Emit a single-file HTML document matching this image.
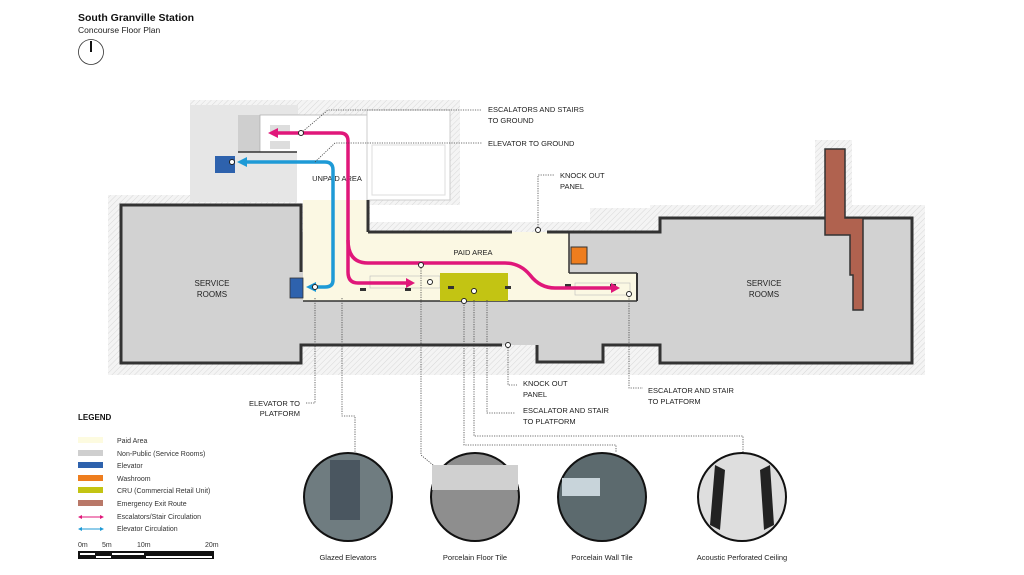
<!DOCTYPE html>
<html><head><meta charset="utf-8"><style>
body{margin:0;background:#fff;}
svg{display:block;font-family:"Liberation Sans",Arial,sans-serif;}
</style></head><body>
<svg width="1024" height="575" viewBox="0 0 1024 575" xmlns="http://www.w3.org/2000/svg">
<defs>
<pattern id="h" width="4" height="4" patternUnits="userSpaceOnUse" patternTransform="rotate(45)">
<rect width="4" height="4" fill="#f4f4f4"/><line x1="0" y1="0" x2="0" y2="4" stroke="#d8d8d8" stroke-width="1"/></pattern>
</defs>
<text x="78" y="21" font-size="10.5" font-weight="bold" fill="#111">South Granville Station</text>
<text x="78" y="33" font-size="8.5" fill="#222">Concourse Floor Plan</text>
<circle cx="91" cy="52" r="12.5" fill="none" stroke="#333" stroke-width="0.8"/>
<line x1="91" y1="41" x2="91" y2="52" stroke="#111" stroke-width="2"/>

<path d="M108 195 H300 V200 H370 V222 H590 V208 H650 V205 H815 V140 H852 V205 H925 V375 H108 Z" fill="url(#h)"/>
<rect x="190" y="100" width="270" height="105" fill="url(#h)"/>
<rect x="190" y="105" width="108" height="97" fill="#e6e6e6"/>
<rect x="238" y="115" width="22" height="37" fill="#cfcfcf"/>
<rect x="260" y="115" width="107" height="37" fill="#fff" stroke="#aaa" stroke-width="0.7"/>
<line x1="238" y1="152" x2="300" y2="152" stroke="#333" stroke-width="1.5"/>
<rect x="297" y="123" width="70" height="80" fill="#fff"/>
<rect x="367" y="110" width="83" height="90" fill="#fff" stroke="#ccc" stroke-width="1"/>
<rect x="372" y="145" width="73" height="50" fill="#fff" stroke="#ddd" stroke-width="1"/>
<rect x="270" y="125" width="20" height="8" fill="#ddd"/><rect x="270" y="141" width="20" height="8" fill="#ddd"/>
<rect x="215" y="156" width="20" height="17" fill="#2e62ad"/>

<path d="M121 205 H301 V232 H660 V218 H912 V363 H660 V345 H603 V362 H537 V345 H301 V363 H121 Z" fill="#d2d2d2"/>
<path d="M569 232 H660 V218 H912 V363 H660 V345 H603 V362 H537 V345" fill="none" stroke="#333" stroke-width="3"/>
<path d="M502 345 H301 V363 H121 V205 H301 V272" fill="none" stroke="#333" stroke-width="3"/>

<path d="M303 200 H368 V232 H569 V273 H637 V301 H303 Z" fill="#fbf8e3"/>
<line x1="368" y1="200" x2="368" y2="232" stroke="#333" stroke-width="3"/>
<line x1="368" y1="232" x2="512" y2="232" stroke="#333" stroke-width="3"/>
<line x1="547" y1="232" x2="569" y2="232" stroke="#333" stroke-width="3"/>
<line x1="569" y1="232" x2="569" y2="273" stroke="#333" stroke-width="1.5"/>
<line x1="569" y1="273" x2="637" y2="273" stroke="#333" stroke-width="1.5"/>
<line x1="637" y1="273" x2="637" y2="301" stroke="#333" stroke-width="2"/>
<line x1="303" y1="301" x2="637" y2="301" stroke="#333" stroke-width="1.5"/>
<rect x="370" y="276" width="70" height="12" fill="none" stroke="#bbb" stroke-width="0.6"/>
<rect x="575" y="283" width="55" height="12" fill="none" stroke="#bbb" stroke-width="0.6"/>
<rect x="440" y="273" width="68" height="28" fill="#c3c413"/>
<rect x="571" y="247" width="16" height="17" fill="#ee7d1e" stroke="#333" stroke-width="1"/>
<rect x="290" y="278" width="13" height="20" fill="#2e62ad" stroke="#333" stroke-width="0.8"/>
<path d="M825 149 H845 V218 H863 V310 H853 V275 H850 V235 H825 Z" fill="#b0624f" stroke="#333" stroke-width="1.5"/>
<g fill="#333"><rect x="360" y="288" width="6" height="3"/><rect x="405" y="288" width="6" height="3"/><rect x="448" y="286" width="6" height="3"/><rect x="505" y="286" width="6" height="3"/><rect x="565" y="284" width="6" height="3"/><rect x="610" y="284" width="6" height="3"/></g>
<text x="212" y="286" font-size="8" text-anchor="middle" fill="#222">SERVICE</text>
<text x="212" y="297" font-size="8" text-anchor="middle" fill="#222">ROOMS</text>
<text x="764" y="286" font-size="8" text-anchor="middle" fill="#222">SERVICE</text>
<text x="764" y="297" font-size="8" text-anchor="middle" fill="#222">ROOMS</text>
<text x="337" y="181" font-size="7.5" text-anchor="middle" fill="#222">UNPAID AREA</text>
<text x="473" y="255" font-size="7.5" text-anchor="middle" fill="#222">PAID AREA</text>
<g fill="none" stroke-width="3.5">
<path d="M276 133 H340 Q348 133 348 141 V272 Q348 283 358 283 H408" stroke="#e0177a"/>
<path d="M348 240 Q348 263 368 263 H505 Q520 263 530 275 Q540 288 555 288 H612" stroke="#e0177a"/>
<path d="M245 162 H325 Q333 162 333 170 V280 Q333 287 325 287 H314" stroke="#1e9ad6"/>
</g>
<polygon points="268,133 278,128 278,138" fill="#e0177a"/>
<polygon points="415,283 406,278 406,288" fill="#e0177a"/>
<polygon points="620,288 611,283 611,293" fill="#e0177a"/>
<polygon points="237,162 247,157 247,167" fill="#1e9ad6"/>
<polygon points="306,287 316,282 316,292" fill="#1e9ad6"/>
<g fill="none" stroke="#444" stroke-width="0.8" stroke-dasharray="1.2,1.2">
<path d="M301 133 L328 110 H482"/>
<path d="M315 162 L335 143 H482"/>
<path d="M538 230 V175 H555"/>
<path d="M315 298 V403 H305"/>
<path d="M342 298 V416 H355 V452"/>
<path d="M421 268 V455 L445 475"/>
<path d="M464 300 V445 H616 V452"/>
<path d="M474 300 V436 H743 V452"/>
<path d="M487 300 V413 H515"/>
<path d="M508 345 V385 H517"/>
<path d="M629 296 V388 H643"/>
</g>
<g fill="#fff" stroke="#222" stroke-width="1"><circle cx="301" cy="133" r="2.5"/><circle cx="232" cy="162" r="2.5"/><circle cx="538" cy="230" r="2.5"/><circle cx="315" cy="287" r="2.5"/><circle cx="421" cy="265" r="2.5"/><circle cx="430" cy="282" r="2.5"/><circle cx="474" cy="291" r="2.5"/><circle cx="464" cy="301" r="2.5"/><circle cx="629" cy="294" r="2.5"/><circle cx="508" cy="345" r="2.5"/></g>
<g font-size="7.5" fill="#222">
<text x="488" y="112">ESCALATORS AND STAIRS</text><text x="488" y="123">TO GROUND</text>
<text x="488" y="146">ELEVATOR TO GROUND</text>
<text x="560" y="178">KNOCK OUT</text><text x="560" y="189">PANEL</text>
<text x="300" y="406" text-anchor="end">ELEVATOR TO</text><text x="300" y="416" text-anchor="end">PLATFORM</text>
<text x="523" y="386">KNOCK OUT</text><text x="523" y="397">PANEL</text>
<text x="523" y="413">ESCALATOR AND STAIR</text><text x="523" y="424">TO PLATFORM</text>
<text x="648" y="393">ESCALATOR AND STAIR</text><text x="648" y="404">TO PLATFORM</text>
</g>
<circle cx="348" cy="497" r="44" fill="#6f7c80" stroke="#111" stroke-width="2"/>
<rect x="330" y="460" width="30" height="60" fill="#4a5660"/>
<circle cx="475" cy="497" r="44" fill="#8e8e8e" stroke="#111" stroke-width="2"/>
<path d="M432 490 H518 V465 H432Z" fill="#d0d0d0"/>
<circle cx="602" cy="497" r="44" fill="#5c6a6e" stroke="#111" stroke-width="2"/>
<rect x="562" y="478" width="38" height="18" fill="#c8d4da"/>
<circle cx="742" cy="497" r="44" fill="#dedede" stroke="#111" stroke-width="2"/>
<path d="M715 465 L725 470 L720 530 L710 525Z M770 465 L760 470 L764 530 L774 525Z" fill="#222"/>
<g font-size="7.5" fill="#222" text-anchor="middle">
<text x="348" y="560">Glazed Elevators</text><text x="475" y="560">Porcelain Floor Tile</text>
<text x="602" y="560">Porcelain Wall Tile</text><text x="742" y="560">Acoustic Perforated Ceiling</text>
</g>
<text x="78" y="420" font-size="8" font-weight="bold" fill="#111">LEGEND</text>
<g font-size="7" fill="#333">
<rect x="78" y="437" width="25" height="6" fill="#fdfbe0"/><text x="117" y="443">Paid Area</text>
<rect x="78" y="450" width="25" height="6" fill="#cfcfcf"/><text x="117" y="456">Non-Public (Service Rooms)</text>
<rect x="78" y="462" width="25" height="6" fill="#2e62ad"/><text x="117" y="468">Elevator</text>
<rect x="78" y="475" width="25" height="6" fill="#ee7d1e"/><text x="117" y="481">Washroom</text>
<rect x="78" y="487" width="25" height="6" fill="#c3c413"/><text x="117" y="493">CRU (Commercial Retail Unit)</text>
<rect x="78" y="500" width="25" height="6" fill="#b97868"/><text x="117" y="506">Emergency Exit Route</text>
<text x="117" y="519">Escalators/Stair Circulation</text>
<text x="117" y="531">Elevator Circulation</text>
<text x="78" y="547">0m</text><text x="102" y="547">5m</text><text x="137" y="547">10m</text><text x="205" y="547">20m</text>
</g>
<line x1="80" y1="517" x2="102" y2="517" stroke="#e0177a" stroke-width="1"/>
<polygon points="78,517 82,515 82,519" fill="#e0177a"/><polygon points="104,517 100,515 100,519" fill="#e0177a"/>
<line x1="80" y1="529" x2="102" y2="529" stroke="#1e9ad6" stroke-width="1"/>
<polygon points="78,529 82,527 82,531" fill="#1e9ad6"/><polygon points="104,529 100,527 100,531" fill="#1e9ad6"/>
<rect x="78" y="551" width="136" height="8" fill="#111"/>
<rect x="80" y="553" width="15" height="2" fill="#fff"/><rect x="96" y="556" width="15" height="2" fill="#fff"/><rect x="112" y="553" width="32" height="2" fill="#fff"/><rect x="146" y="556" width="66" height="2" fill="#fff"/>
</svg>
</body></html>
